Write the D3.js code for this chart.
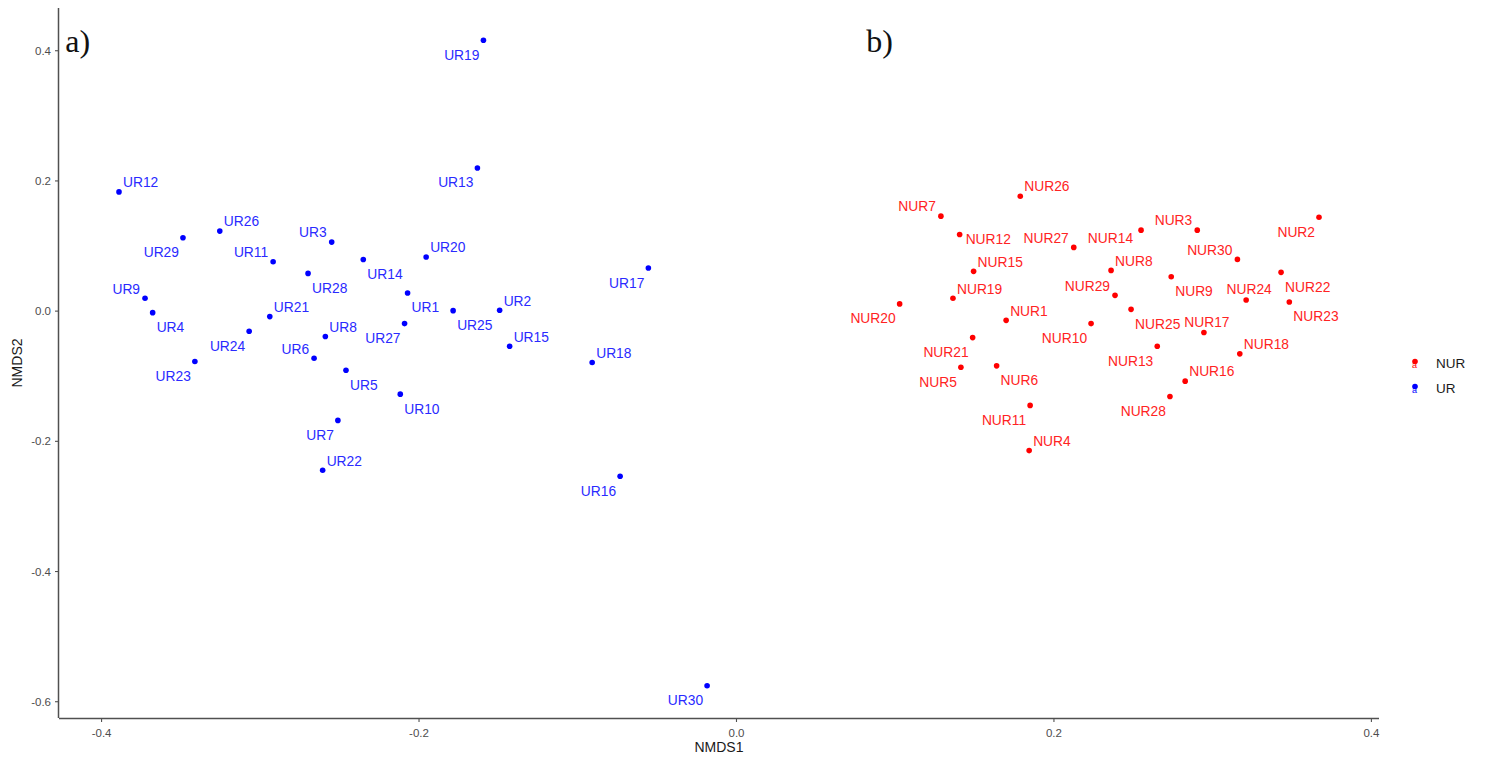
<!DOCTYPE html>
<html>
<head>
<meta charset="utf-8">
<script src="https://cdn.jsdelivr.net/npm/d3@7"></script>
<style>
  html, body { margin: 0; padding: 0; background: #fff; }
  svg { display: block; }
</style>
</head>
<body>
<svg id="chart" width="1488" height="765"></svg>
<script>
// ---- data (NMDS scores) ----
const urNames = ["UR1","UR2","UR3","UR4","UR5","UR6","UR7","UR8","UR9","UR10",
  "UR11","UR12","UR13","UR14","UR15","UR16","UR17","UR18","UR19","UR20",
  "UR21","UR22","UR23","UR24","UR25","UR26","UR27","UR28","UR29","UR30"];
const urNMDS1 = [-0.2069,-0.1489,-0.2547,-0.3675,-0.2457,-0.2658,-0.2508,-0.2587,-0.3723,-0.2115,
  -0.2916,-0.3887,-0.1629,-0.2348,-0.1426,-0.0730,-0.0552,-0.0906,-0.1591,-0.1952,
  -0.2937,-0.2604,-0.3409,-0.3067,-0.1782,-0.3252,-0.2088,-0.2696,-0.3484,-0.0182];
const urNMDS2 = [0.0271,0.0005,0.1053,-0.0031,-0.0915,-0.0731,-0.1686,-0.0398,0.0189,-0.1283,
  0.0751,0.1824,0.2192,0.0786,-0.0547,-0.2544,0.0654,-0.0797,0.4153,0.0823,
  -0.0092,-0.2452,-0.0782,-0.0317,0.0000,0.1222,-0.0199,0.0572,0.1119,-0.5762];
const urLabelSide = ["se","ne","nw","se","se","nw","sw","ne","nw","se",
  "nw","ne","sw","se","ne","sw","sw","ne","sw","ne",
  "ne","ne","sw","sw","se","ne","sw","se","sw","sw"];

const nurNames = ["NUR1","NUR2","NUR3","NUR4","NUR5","NUR6","NUR7","NUR8","NUR9","NUR10",
  "NUR11","NUR12","NUR13","NUR14","NUR15","NUR16","NUR17","NUR18","NUR19","NUR20",
  "NUR21","NUR22","NUR23","NUR24","NUR25","NUR26","NUR27","NUR28","NUR29","NUR30"];
const nurNMDS1 = [0.1702,0.3673,0.2906,0.1847,0.1417,0.1642,0.1291,0.2363,0.2742,0.2237,
  0.1853,0.1409,0.2654,0.2552,0.1497,0.2830,0.2948,0.3174,0.1367,0.1031,
  0.1491,0.3434,0.3486,0.3214,0.2489,0.1791,0.2128,0.2734,0.2388,0.3159];
const nurNMDS2 = [-0.0149,0.1435,0.1236,-0.2150,-0.0869,-0.0848,0.1451,0.0618,0.0521,-0.0199,
  -0.1456,0.1170,-0.0547,0.1236,0.0603,-0.1083,-0.0337,-0.0664,0.0189,0.0103,
  -0.0414,0.0588,0.0133,0.0164,0.0020,0.1758,0.0971,-0.1318,0.0235,0.0787];
const nurLabelSide = ["ne","sw","nw","ne","sw","se","nw","ne","se","sw",
  "sw","e","sw","w","ne","ne","n","ne","ne","sw",
  "sw","se","se","n","se","ne","nw","sw","nw","nw"];

const groups = ["NUR","UR"];
const groupColors = ["#ff0000","#0000ff"];
const labelColors = ["#ff2323","#2a2aff"];
const xTicks = [-0.4,-0.2,0.0,0.2,0.4];
const yTicks = [-0.6,-0.4,-0.2,0.0,0.2,0.4];
const panelTags = ["a)","b)"];
const panelTagX = [-0.4225, 0.082];

// ---- build records ----
const points = [];
urNames.forEach((n,i) => points.push({name:n, g:"UR", x:urNMDS1[i], y:urNMDS2[i], side:urLabelSide[i]}));
nurNames.forEach((n,i) => points.push({name:n, g:"NUR", x:nurNMDS1[i], y:nurNMDS2[i], side:nurLabelSide[i]}));

const color = d3.scaleOrdinal().domain(groups).range(groupColors);
const labelColor = d3.scaleOrdinal().domain(groups).range(labelColors);

// ---- layout ----
const svg = d3.select("#chart");
svg.append("rect").attr("width",1488).attr("height",765).attr("fill","#fff");
const pLeft = 59, pRight = 1379, pTop = 8, pBottom = 718;

function expand(ext, f) { const r = ext[1]-ext[0]; return [ext[0]-r*f, ext[1]+r*f]; }
const x = d3.scaleLinear().domain(expand(d3.extent(points, d => d.x), 0.05)).range([pLeft, pRight]);
const y = d3.scaleLinear().domain(expand(d3.extent(points, d => d.y), 0.05)).range([pBottom, pTop]);

const fmt = d => d.toFixed(1);
const axisCol = "#505050";
const tickTextCol = "#4d4d4d";

const gx = svg.append("g").attr("transform", `translate(0,${pBottom})`)
  .call(d3.axisBottom(x).tickValues(xTicks).tickFormat(fmt).tickSize(4).tickSizeOuter(0));
const gy = svg.append("g").attr("transform", `translate(${pLeft},0)`)
  .call(d3.axisLeft(y).tickValues(yTicks).tickFormat(fmt).tickSize(4).tickSizeOuter(0));
[gx, gy].forEach(g => {
  g.select(".domain").attr("stroke", axisCol).attr("stroke-width", 1.5);
  g.selectAll(".tick line").attr("stroke", axisCol).attr("stroke-width", 1.1);
  g.selectAll(".tick text").attr("fill", tickTextCol)
    .style("font-family", "'Liberation Sans', Arial, sans-serif").style("font-size", "11.5px");
});
gx.selectAll(".tick text").attr("dy", null).attr("y", 19);
gy.selectAll(".tick text").attr("x", -8).attr("dy", "0.35em");
gx.select(".domain").attr("d", `M${pLeft},0.5H${pRight}`);
gy.select(".domain").attr("d", `M-0.5,${pTop}V${pBottom}`);

// axis titles
svg.append("text").attr("x", (pLeft+pRight)/2).attr("y", 752).attr("text-anchor","middle")
  .attr("fill","#1a1a1a").style("font-family","'Liberation Sans', Arial, sans-serif")
  .style("font-size","14px").text("NMDS1");
svg.append("text").attr("transform", `translate(22,${(pTop+pBottom)/2}) rotate(-90)`)
  .attr("text-anchor","middle").attr("fill","#1a1a1a")
  .style("font-family","'Liberation Sans', Arial, sans-serif").style("font-size","14px").text("NMDS2");

// panel tags
panelTags.forEach((t,i) => {
  svg.append("text").attr("x", x(panelTagX[i])).attr("y", 52)
    .style("font-family","'Liberation Serif', 'Times New Roman', serif").style("font-size","32px")
    .attr("fill","#111").text(t);
});

// points
svg.append("g").selectAll("circle").data(points).join("circle")
  .attr("cx", d => x(d.x)).attr("cy", d => y(d.y)).attr("r", 2.8)
  .attr("fill", d => color(d.g));

// labels
const off = {
  ne: {a:"start", dx: 4, dy: -4.7},
  nw: {a:"end", dx: -5, dy: -4.7},
  se: {a:"start", dx: 4, dy: 19.5},
  sw: {a:"end", dx: -4, dy: 19.5},
  e:  {a:"start", dx: 6, dy: 9.3},
  w:  {a:"end", dx: -8, dy: 13},
  n:  {a:"middle", dx: 3, dy: -5.5}
};
svg.append("g").selectAll("text").data(points).join("text")
  .attr("x", d => x(d.x) + off[d.side].dx)
  .attr("y", d => y(d.y) + off[d.side].dy)
  .attr("text-anchor", d => off[d.side].a)
  .attr("fill", d => labelColor(d.g))
  .style("font-family","'Liberation Sans', Arial, sans-serif")
  .style("font-size","13.8px")
  .text(d => d.name);

// legend
const lg = svg.append("g").attr("transform","translate(1415,363)");
groups.forEach((g,i) => {
  const row = lg.append("g").attr("transform", `translate(0,${i*25})`);
  row.append("text").attr("x", -0.5).attr("y", 5).attr("text-anchor","middle")
    .attr("fill", color(g)).style("font-family","'Liberation Sans', Arial, sans-serif")
    .style("font-size","9px").text("a");
  row.append("circle").attr("cx",0).attr("cy",-1.5).attr("r",2.8).attr("fill", color(g));
  row.append("text").attr("x", 21).attr("y", 5).attr("fill","#1a1a1a")
    .style("font-family","'Liberation Sans', Arial, sans-serif").style("font-size","13.5px").text(g);
});
</script>
</body>
</html>
